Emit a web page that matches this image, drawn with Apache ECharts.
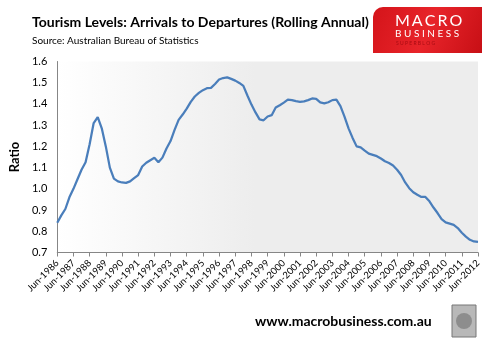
<!DOCTYPE html>
<html><head><meta charset="utf-8">
<script src="https://cdn.jsdelivr.net/npm/echarts@6/dist/echarts.min.js"></script>
<style>html,body{margin:0;padding:0;background:#fff}#c{width:488px;height:341px}</style>
</head><body><div id="c"></div>
<script>
// Quarterly readings, Jun-1986 .. Jun-2012
const ratio = [
0.84,0.875,
0.905,0.96,1.00,1.045,
1.09,1.125,1.21,1.31,
1.338,1.285,1.20,1.10,
1.048,1.035,1.03,1.028,
1.035,1.05,1.065,1.105,
1.123,1.135,1.146,1.125,
1.147,1.19,1.225,1.278,
1.325,1.35,1.378,1.41,
1.435,1.452,1.465,1.474,
1.476,1.494,1.515,1.522,
1.525,1.518,1.51,1.499,
1.485,1.44,1.397,1.36,
1.327,1.323,1.341,1.347,
1.383,1.394,1.406,1.42,
1.418,1.413,1.41,1.412,
1.418,1.426,1.424,1.407,
1.403,1.408,1.418,1.42,
1.39,1.34,1.285,1.24,
1.20,1.195,1.18,1.166,
1.16,1.154,1.143,1.13,
1.122,1.11,1.09,1.065,
1.03,1.003,0.984,0.972,
0.962,0.962,0.941,0.912,
0.886,0.857,0.842,0.836,
0.83,0.815,0.793,0.775,
0.76,0.752,0.75
];
const quarterNames = ['Mar','Jun','Sep','Dec'];
const startYear = 1986;
const categories = [];
for (let i = 0; i < ratio.length; i++) {
  const q = i + 1; // index 0 = Jun-1986
  categories.push(quarterNames[q % 4] + '-' + (startYear + Math.floor(q / 4)));
}
const yTicks = {min: 0.7, max: 1.6, interval: 0.1};
const titleText = 'Tourism Levels: Arrivals to Departures (Rolling Annual)';
const sourceText = 'Source: Australian Bureau of Statistics';

const chart = echarts.init(document.getElementById('c'), null, {renderer: 'canvas'});
chart.setOption({
  animation: false,
  backgroundColor: '#ffffff',
  title: {
    text: titleText, subtext: sourceText,
    left: 27, top: 10, itemGap: 7,
    textStyle: {fontFamily: 'Lato', fontWeight: 'bold', fontSize: 14, color: '#000'},
    subtextStyle: {fontFamily: 'Lato', fontSize: 10, color: '#000'}
  },
  grid: {
    left: 48, right: 10, top: 61.5, bottom: 88.5, show: true, borderWidth: 0,
    backgroundColor: {type: 'linear', x: 0, y: 0, x2: 1, y2: 0,
      colorStops: [{offset: 0, color: '#ffffff'}, {offset: 0.47, color: '#ededed'}, {offset: 1, color: '#ededed'}]}
  },
  xAxis: {
    type: 'category', data: categories, boundaryGap: false,
    axisLine: {lineStyle: {color: '#868686', width: 1}},
    axisTick: {interval: 3, length: 4, lineStyle: {color: '#868686'}},
    axisLabel: {interval: 3, rotate: 45, fontFamily: 'Lato', fontSize: 9.5, color: '#000', margin: 9},
    splitLine: {show: false}
  },
  yAxis: {
    type: 'value', min: yTicks.min, max: yTicks.max, interval: yTicks.interval,
    name: 'Ratio', nameLocation: 'middle', nameGap: 36, nameRotate: 90,
    nameTextStyle: {fontFamily: 'Lato', fontWeight: 'bold', fontSize: 13, color: '#000'},
    axisLine: {show: true, lineStyle: {color: '#868686', width: 1}},
    axisTick: {show: false},
    axisLabel: {fontFamily: 'Lato', fontSize: 11, color: '#000', margin: 10,
      formatter: v => v.toFixed(1)},
    splitLine: {show: false}
  },
  series: [{
    type: 'line', data: ratio, showSymbol: false, smooth: false,
    lineStyle: {color: '#4a7ebb', width: 2.25}
  }],
  graphic: [
    {type: 'rect', shape: {x: 373, y: 7, width: 109, height: 46, r: [10,0,0,0]},
      style: {fill: {type: 'linear', x: 0, y: 0, x2: 1, y2: 1,
        colorStops: [{offset: 0, color: '#d4141a'}, {offset: 0.5, color: '#e8242a'}, {offset: 1, color: '#c70f15'}]}}},
    {type: 'text', left: 395, top: 13, style: {text: 'M\u2009A\u2009C\u2009R\u2009O', fill: '#ffffff', font: '16px Lato'}},
    {type: 'text', left: 395, top: 29, style: {text: 'B U S I N E S S', fill: '#ffffff', font: '10px Lato'}},
    {type: 'text', left: 396, top: 41, style: {text: 'S U P E R B L O G', fill: '#a80c12', font: '5px Lato'}},
    {type: 'text', left: 255, top: 314, style: {text: 'www.macrobusiness.com.au', fill: '#000', font: 'bold 14px Lato'}},
    {type: 'rect', shape: {x: 452, y: 305, width: 24, height: 32},
      style: {fill: '#b8b8b8', stroke: '#777', lineWidth: 1}},
    {type: 'circle', shape: {cx: 464, cy: 321, r: 8}, style: {fill: '#8d8d8d'}}
  ]
});
</script></body></html>
